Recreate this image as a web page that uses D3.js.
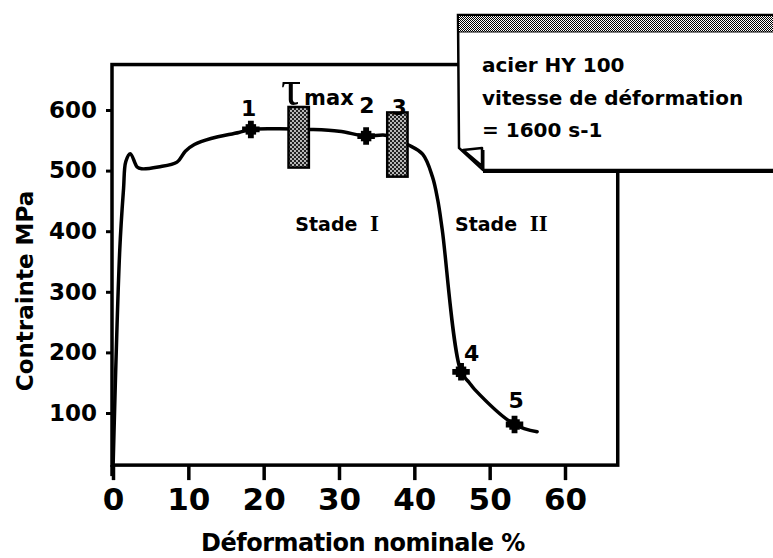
<!DOCTYPE html>
<html>
<head>
<meta charset="utf-8">
<script src="https://cdn.jsdelivr.net/npm/d3@7"></script>
<style>
  body{margin:0;background:#fff;}
  svg{display:block;font-family:"DejaVu Sans",sans-serif;}
</style>
</head>
<body>
<svg id="chart" width="773" height="558"></svg>
<script>
// ===== Data =====
// stress-strain curve: nominal strain (%) vs stress (MPa)
const strain = [0, 0.9, 1.4, 1.7, 2.3, 3.2, 3.8, 6, 8.5, 9.6, 10.8, 13, 16.7, 18.3, 22, 26, 30, 33.6, 36.4, 39.1, 41.1, 42.4, 43.1, 43.7, 46.2, 47.3, 48.0, 53.3, 56.3];
const stress = [5, 370, 470, 515, 528, 506, 503, 506, 514, 532, 543, 553, 563, 568, 569, 568, 565, 557, 558, 543, 527, 490, 452, 403, 168, 150, 139, 81, 69];

// marked points 1, 2, 4, 5
const markStrain = [18.3, 33.6, 46.2, 53.3];
const markStress = [568, 557, 168, 81];

// shaded bars (tau max, point 3)
const barStrain0 = [23.3, 36.4];
const barStrain1 = [26.0, 39.1];
const barStress0 = [505, 490];
const barStress1 = [605, 596];

// point numbers
const ptLabels = ['1', '2', '3', '4', '5'];
const ptLabelStrain = [18.0, 33.7, 38.0, 47.6, 53.5];
const ptLabelStress = [590, 595, 592, 185, 108];

const xTicks = [0, 10, 20, 30, 40, 50, 60];
const yTicks = [100, 200, 300, 400, 500, 600];

const noteLines = ['acier HY 100', 'vitesse de déformation', '= 1600 s-1'];

// ===== Scales =====
const svg = d3.select('#chart');
const x = d3.scaleLinear().domain([0, 60]).range([113, 565]);
const y = d3.scaleLinear().domain([100, 600]).range([413, 110]);
const frame = {x0: 0, x1: 67, yTop: 675, yBot: 14};

// patterns
const defs = svg.append('defs');
const speck = defs.append('pattern').attr('id', 'speck')
  .attr('width', 4).attr('height', 4).attr('patternUnits', 'userSpaceOnUse');
speck.append('rect').attr('width', 4).attr('height', 4).attr('fill', '#222');
speck.append('circle').attr('cx', 1).attr('cy', 1).attr('r', 0.9).attr('fill', '#fff');
speck.append('circle').attr('cx', 3).attr('cy', 3).attr('r', 0.9).attr('fill', '#fff');

const dots = defs.append('pattern').attr('id', 'dots')
  .attr('width', 2).attr('height', 2).attr('patternUnits', 'userSpaceOnUse');
dots.append('rect').attr('width', 2).attr('height', 2).attr('fill', '#fff');
dots.append('rect').attr('width', 1).attr('height', 1).attr('fill', '#000');
dots.append('rect').attr('x', 1).attr('y', 1).attr('width', 1).attr('height', 1).attr('fill', '#000');

// ===== Frame =====
const gFrame = svg.append('g');
gFrame.append('rect')
  .attr('x', x(frame.x0) - 1).attr('y', y(frame.yTop))
  .attr('width', x(frame.x1) - x(frame.x0) + 1)
  .attr('height', y(frame.yBot) - y(frame.yTop))
  .attr('fill', 'none').attr('stroke', '#000').attr('stroke-width', 3.5);
// y axis line runs a little below the x axis
gFrame.append('line')
  .attr('x1', x(0) - 1).attr('x2', x(0) - 1)
  .attr('y1', y(frame.yBot)).attr('y2', y(frame.yBot) + 11)
  .attr('stroke', '#000').attr('stroke-width', 3.5);

// ===== Axes =====
const yAxisG = svg.append('g')
  .attr('transform', `translate(${x(0) - 1},0)`)
  .call(d3.axisLeft(y).tickValues(yTicks).tickSize(6).tickPadding(9));
yAxisG.select('.domain').remove();
yAxisG.selectAll('line').attr('stroke-width', 3);
yAxisG.selectAll('text')
  .attr('font-family', '"DejaVu Sans",sans-serif')
  .attr('font-weight', 'bold').attr('font-size', 23).attr('fill', '#000');

const xAxisG = svg.append('g')
  .attr('transform', `translate(0,${y(frame.yBot)})`)
  .call(d3.axisBottom(x).tickValues(xTicks).tickSize(15));
xAxisG.select('.domain').remove();
xAxisG.selectAll('line').attr('stroke-width', 3.5);
xAxisG.selectAll('text')
  .attr('y', 45).attr('dy', null)
  .attr('font-family', '"DejaVu Sans",sans-serif')
  .attr('font-weight', 'bold').attr('font-size', 31).attr('fill', '#000');

svg.append('text')
  .attr('x', 363).attr('y', 551).attr('text-anchor', 'middle')
  .attr('font-weight', 'bold').attr('font-size', 24).attr('letter-spacing', -0.5)
  .text('Déformation nominale %');

svg.append('text')
  .attr('transform', 'translate(33,291) rotate(-90)').attr('text-anchor', 'middle')
  .attr('font-weight', 'bold').attr('font-size', 23)
  .text('Contrainte MPa');

// ===== Curve =====
const pts = strain.map((s, i) => [s, stress[i]]);
const line = d3.line().x(d => x(d[0])).y(d => y(d[1])).curve(d3.curveCatmullRom.alpha(0.5));
svg.append('path').attr('d', line(pts))
  .attr('fill', 'none').attr('stroke', '#000').attr('stroke-width', 3.5)
  .attr('stroke-linejoin', 'round').attr('stroke-linecap', 'round');

// bars
svg.append('g').selectAll('rect').data(barStrain0).join('rect')
  .attr('x', (d, i) => x(d))
  .attr('y', (d, i) => y(barStress1[i]))
  .attr('width', (d, i) => x(barStrain1[i]) - x(d))
  .attr('height', (d, i) => y(barStress0[i]) - y(barStress1[i]))
  .attr('fill', 'url(#speck)').attr('stroke', '#000').attr('stroke-width', 2.5);

// markers
const gMarks = svg.append('g');
markStrain.forEach((s, i) => {
  const g = gMarks.append('g').attr('transform', `translate(${x(s)},${y(markStress[i])})`);
  g.append('path').attr('d', d3.symbol(d3.symbolSquare, 110)()).attr('fill', '#000');
  g.append('path').attr('d', d3.symbol(d3.symbolCross, 170)()).attr('fill', '#000');
});

// point numbers
svg.append('g').selectAll('text').data(ptLabels).join('text')
  .attr('x', (d, i) => x(ptLabelStrain[i]))
  .attr('y', (d, i) => y(ptLabelStress[i]))
  .attr('text-anchor', 'middle')
  .attr('font-weight', 'bold').attr('font-size', 22)
  .text(d => d);

// tau max
const tau = svg.append('text').attr('x', x(22.3)).attr('y', y(608));
tau.append('tspan').attr('font-family', '"Liberation Serif",serif').attr('font-size', 50).text('τ');
tau.append('tspan').attr('dx', 3).attr('font-weight', 'bold').attr('font-size', 21).text('max');

// stage labels
[['Stade ', 'I', 24.2], ['Stade ', 'II', 45.4]].forEach(d => {
  const t = svg.append('text').attr('x', x(d[2])).attr('y', y(400)).attr('font-weight', 'bold').attr('font-size', 19);
  t.append('tspan').text(d[0]);
  t.append('tspan').attr('dx', 6).attr('font-family', '"Liberation Serif",serif').attr('font-size', 23).text(d[1]);
});

// ===== Note box =====
const gNote = svg.append('g');
gNote.append('line').attr('x1', 483).attr('x2', 780).attr('y1', 170).attr('y2', 170)
  .attr('stroke', '#000').attr('stroke-width', 6);
gNote.append('path').attr('d', 'M458,15 H780 V170 H483 L459,148 Z')
  .attr('fill', '#fff').attr('stroke', '#000').attr('stroke-width', 2.5);
gNote.append('rect').attr('x', 459).attr('y', 16).attr('width', 320).attr('height', 16)
  .attr('fill', 'url(#dots)');
gNote.append('line').attr('x1', 458).attr('x2', 780).attr('y1', 32).attr('y2', 32)
  .attr('stroke', '#000').attr('stroke-width', 1);
gNote.append('path').attr('d', 'M463,150 L482,148 L482,166 Z')
  .attr('fill', '#fff').attr('stroke', '#000').attr('stroke-width', 2.5).attr('stroke-linejoin', 'round');
gNote.append('line').attr('x1', 483).attr('x2', 483).attr('y1', 150).attr('y2', 170)
  .attr('stroke', '#000').attr('stroke-width', 3);
gNote.selectAll('text.note').data(noteLines).join('text').attr('class', 'note')
  .attr('x', 482).attr('y', (d, i) => 72 + i * 32.5)
  .attr('font-weight', 'bold').attr('font-size', 20)
  .text(d => d);
</script>
</body>
</html>
